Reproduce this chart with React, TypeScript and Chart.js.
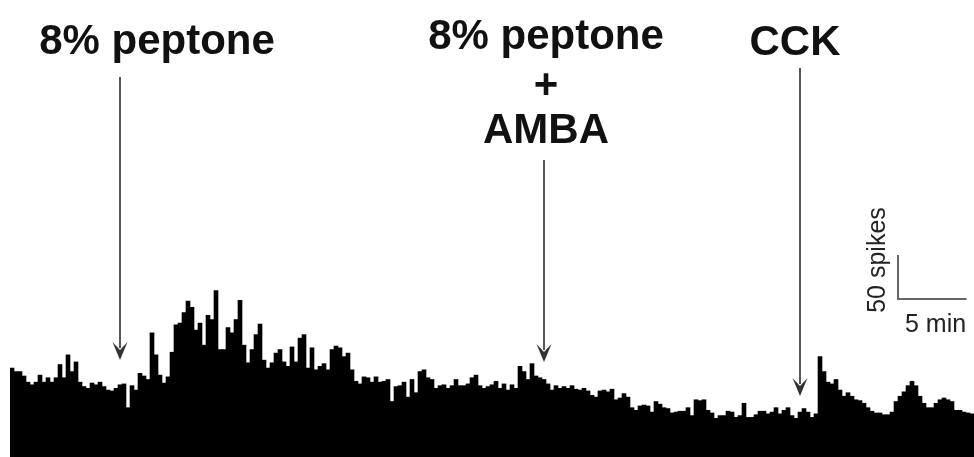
import { useEffect, useRef } from 'react';
import { Chart, registerables } from 'chart.js';

Chart.register(...registerables);

// spike counts per bin (one bar per bin)
const spikes = [
  101, 97, 97, 92, 85, 82, 85, 93, 85, 90, 85, 90, 105, 90, 116, 97, 108, 85, 80, 78,
  84, 82, 85, 80, 76, 75, 78, 82, 83, 56, 81, 76, 95, 92, 88, 141, 116, 93, 84, 91,
  119, 150, 152, 164, 177, 170, 144, 152, 127, 161, 156, 189, 122, 122, 147, 141, 156, 178, 127, 107,
  122, 139, 151, 110, 101, 107, 118, 122, 108, 103, 125, 108, 135, 139, 101, 124, 99, 103, 106, 99,
  122, 126, 124, 114, 118, 99, 86, 83, 91, 90, 85, 91, 85, 86, 88, 63, 80, 81, 85, 68,
  88, 73, 97, 99, 90, 88, 78, 81, 82, 78, 81, 88, 81, 81, 83, 90, 93, 81, 78, 80,
  82, 86, 78, 83, 76, 82, 78, 103, 97, 88, 106, 92, 90, 88, 83, 76, 81, 78, 80, 78,
  81, 77, 76, 78, 75, 70, 68, 75, 76, 74, 77, 65, 67, 72, 68, 56, 53, 58, 59, 58,
  51, 63, 60, 56, 55, 50, 51, 52, 52, 56, 47, 65, 64, 65, 53, 50, 44, 47, 47, 52,
  51, 45, 47, 61, 45, 45, 48, 52, 52, 49, 51, 56, 49, 53, 56, 47, 44, 51, 55, 51,
  45, 49, 114, 97, 85, 83, 88, 76, 69, 73, 69, 65, 64, 61, 56, 52, 50, 50, 48, 48,
  51, 63, 69, 74, 81, 86, 81, 69, 61, 56, 56, 61, 65, 67, 65, 63, 53, 53, 51, 50,
  49,
];
const bins = spikes.map((_, i) => String(i));

// bins at which each solution was applied
const stimuli = ['8% peptone', '8% peptone + AMBA', 'CCK'];
const stimulusBins = [27, 133, 197];

const binSeconds = 17.5;
const scaleSpikes = 50;
const scaleMinutes = 5;

const font = "'Liberation Sans', Arial, Helvetica, sans-serif";

const annotations = {
  id: 'annotations',
  afterDatasetsDraw(chart: Chart) {
    const { ctx } = chart;
    const x = chart.scales.x;
    const y = chart.scales.y;
    const arrows = [
      { from: 77, to: 360 },
      { from: 160, to: 362 },
      { from: 68, to: 396 },
    ];
    ctx.save();
    ctx.strokeStyle = '#555';
    ctx.fillStyle = '#333';
    ctx.lineWidth = 2;
    stimulusBins.forEach((b, i) => {
      const px = x.getPixelForValue(b);
      const a = arrows[i];
      ctx.beginPath();
      ctx.moveTo(px, a.from);
      ctx.lineTo(px, a.to - 12);
      ctx.stroke();
      ctx.beginPath();
      ctx.moveTo(px - 7.5, a.to - 18);
      ctx.lineTo(px, a.to - 10);
      ctx.lineTo(px + 7.5, a.to - 18);
      ctx.lineTo(px, a.to);
      ctx.closePath();
      ctx.fill();
    });

    // scale bar
    const cx = 898;
    const cy = 299;
    const h = y.getPixelForValue(0) - y.getPixelForValue(scaleSpikes);
    const w = ((scaleMinutes * 60) / binSeconds) * (x.getPixelForValue(1) - x.getPixelForValue(0));
    ctx.strokeStyle = '#666';
    ctx.beginPath();
    ctx.moveTo(cx, cy - h);
    ctx.lineTo(cx, cy);
    ctx.lineTo(cx + w, cy);
    ctx.stroke();
    ctx.restore();
  },
};

const label = (left: number, top: number, text: string) => (
  <div
    style={{
      position: 'absolute', left, top, transform: 'translateX(-50%)', whiteSpace: 'nowrap',
      font: `bold 42px ${font}`, lineHeight: '42px', color: '#111',
    }}
  >
    {text}
  </div>
);

export default function App() {
  const canvasRef = useRef<HTMLCanvasElement>(null);

  useEffect(() => {
    document.body.style.margin = '0';
    if (!canvasRef.current) return;
    const chart = new Chart(canvasRef.current, {
      type: 'bar',
      data: {
        labels: bins,
        datasets: [{
          data: spikes,
          backgroundColor: '#000',
          borderWidth: 0,
          barPercentage: 1,
          categoryPercentage: 1,
        }],
      },
      options: {
        responsive: true,
        maintainAspectRatio: false,
        animation: false,
        layout: { padding: { left: 10, right: 0, top: 0, bottom: 0 } },
        plugins: { legend: { display: false }, tooltip: { enabled: false } },
        scales: {
          x: { display: false },
          y: { display: false, min: 0, max: 519 },
        },
      },
      plugins: [annotations],
    });
    return () => chart.destroy();
  }, []);

  const [s1, s2, s3] = stimuli;
  const [s2a, s2b] = s2.split(' + ');

  return (
    <div style={{ position: 'relative', width: 974, height: 457, background: '#fff', overflow: 'hidden' }}>
      <canvas ref={canvasRef} />
      {label(157, 19, s1)}
      {label(546, 14, s2a)}
      {label(546, 63, '+')}
      {label(546, 108, s2b)}
      {label(795, 20, s3)}
      <div
        style={{
          position: 'absolute', left: 876, top: 260, transform: 'translate(-50%, -50%) rotate(-90deg)',
          whiteSpace: 'nowrap', font: `25px ${font}`, lineHeight: '25px', color: '#222',
        }}
      >
        {scaleSpikes} spikes
      </div>
      <div
        style={{
          position: 'absolute', left: 905, top: 311, whiteSpace: 'nowrap',
          font: `25px ${font}`, lineHeight: '25px', color: '#222',
        }}
      >
        {scaleMinutes} min
      </div>
    </div>
  );
}
